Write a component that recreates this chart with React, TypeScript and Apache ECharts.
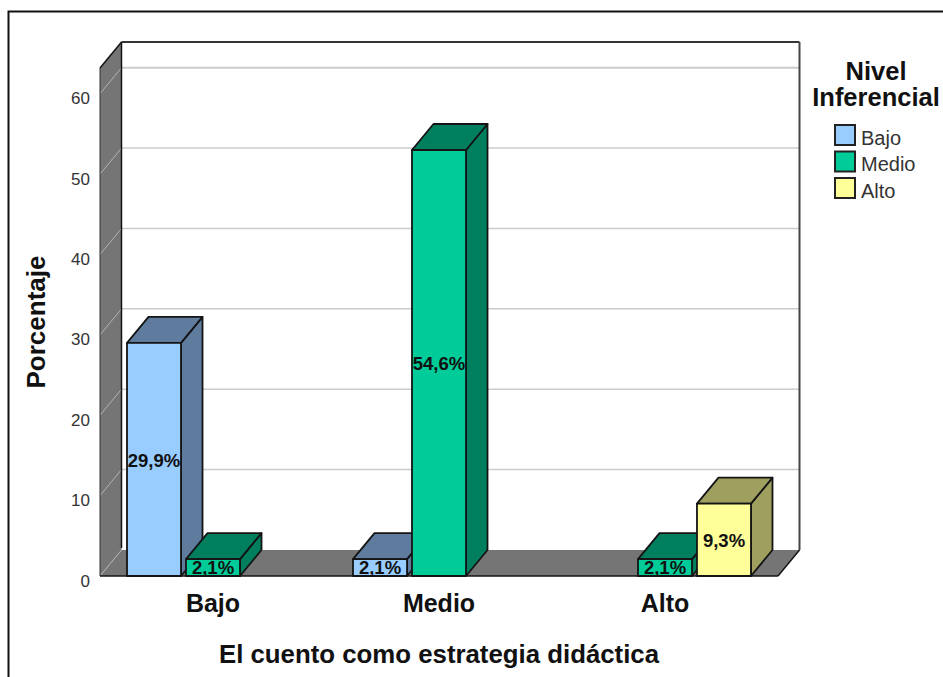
import React, { useEffect, useRef } from "react";
import * as echarts from "echarts";

const categories = ["Bajo", "Medio", "Alto"];
const tickValues = [0, 10, 20, 30, 40, 50, 60];
const seriesNames = ["Bajo", "Medio", "Alto"];
const bajoValues = [29.0, 2.1, null];
const medioValues = [2.1, 53.0, 2.1];
const altoValues = [null, null, 9.0];
const bajoLabels = ["29,9%", "2,1%", ""];
const medioLabels = ["2,1%", "54,6%", "2,1%"];
const altoLabels = ["", "", "9,3%"];
const frontColors = ["#99CCFF", "#00CC99", "#FFFF99"];
const sideColors = ["#5F7C9F", "#007F5F", "#9F9F5F"];

const DX = 21.5;
const DY = -26;
const WALL = "#757575";
const EDGE = "#141414";

function poly(points: number[][], fill: string, stroke: string | null, lineWidth = 1.8) {
  return {
    type: "polygon",
    shape: { points },
    style: { fill, stroke: stroke ?? "none", lineWidth, lineJoin: "round" },
  };
}
function seg(a: number[], b: number[], stroke: string, lineWidth: number) {
  return { type: "line", shape: { x1: a[0], y1: a[1], x2: b[0], y2: b[1] }, style: { stroke, lineWidth } };
}

function renderChrome(params: any, api: any) {
  const cs = params.coordSys;
  const L = cs.x, R = cs.x + cs.width, T = cs.y, B = cs.y + cs.height;
  const kids: any[] = [];
  kids.push(poly([[L + DX, T + DY], [R + DX, T + DY], [R + DX, B + DY], [L + DX, B + DY]], "#ffffff", null));
  kids.push(poly([[L, B], [L + DX, B + DY], [R + DX, B + DY], [R, B]], WALL, null));
  kids.push(poly([[L, B], [L, T], [L + DX, T + DY], [L + DX, B + DY]], WALL, null));
  tickValues.forEach((t, i) => {
    const y = api.coord([0, t])[1];
    kids.push(seg([L, y], [L + DX, y + DY], "#b4b4b4", 1));
    if (i > 0) kids.push(seg([L + DX, y + DY], [R + DX, y + DY], "#cccccc", i === tickValues.length - 1 ? 2 : 1.5));
  });
  kids.push(seg([L + DX, T + DY], [R + DX, T + DY], "#333333", 2));
  kids.push(seg([R + DX, T + DY], [R + DX, B + DY], "#444444", 2));
  kids.push(seg([L + DX, T + DY], [L + DX, B + DY - 2], EDGE, 1.5));
  kids.push(seg([L, T], [L + DX, T + DY], EDGE, 1.5));
  kids.push(seg([L, T], [L, B], "#333333", 1));
  kids.push(seg([L, B], [R, B], EDGE, 1.5));
  kids.push(seg([R, B], [R + DX, B + DY], EDGE, 1.5));
  return { type: "group", children: kids };
}

function barRenderer(index: number, labels: string[]) {
  return (_params: any, api: any) => {
    const cat = api.value(0);
    const val = api.value(1);
    const base = api.coord([cat, 0]);
    const top = api.coord([cat, val]);
    const band = api.size([1, 0])[0];
    const w = band * 0.239;
    const gap = band * 0.022;
    const x0 = base[0] + (index - 1) * (w + gap) - w / 2;
    const x1 = x0 + w;
    const yB = base[1];
    const yT = top[1];
    return {
      type: "group",
      children: [
        poly([[x1, yT], [x1 + DX, yT + DY], [x1 + DX, yB + DY], [x1, yB]], sideColors[index], EDGE),
        poly([[x0, yT], [x0 + DX, yT + DY], [x1 + DX, yT + DY], [x1, yT]], sideColors[index], EDGE),
        poly([[x0, yT], [x1, yT], [x1, yB], [x0, yB]], frontColors[index], EDGE),
        {
          type: "text",
          x: (x0 + x1) / 2,
          y: (yT + yB) / 2 + (yB - yT > 30 ? 1 : 0),
          style: {
            text: labels[cat],
            fill: "#111111",
            font: 'bold 18.5px "Liberation Sans"',
            align: "center",
            verticalAlign: "middle",
          },
        },
      ],
    };
  };
}

function toData(values: (number | null)[]) {
  return values.map((v, i) => (v === null ? null : [i, v])).filter(Boolean);
}

export default function App() {
  const ref = useRef<HTMLDivElement>(null);
  useEffect(() => {
    const chart = echarts.init(ref.current!, null, { renderer: "svg" });
    const valueSets = [bajoValues, medioValues, altoValues];
    const labelSets = [bajoLabels, medioLabels, altoLabels];
    chart.setOption({
      animation: false,
      backgroundColor: "#ffffff",
      textStyle: { fontFamily: "Liberation Sans" },
      grid: { left: 100, right: 165, top: 68, bottom: 101, containLabel: false },
      title: {
        text: "Nivel\nInferencial",
        left: 871,
        top: 53,
        textAlign: "center",
        textStyle: { fontFamily: "Liberation Sans", fontWeight: "bold", fontSize: 25.5, lineHeight: 26, color: "#111111" },
      },
      legend: {
        orient: "vertical",
        left: 834,
        top: 124,
        padding: 0,
        itemWidth: 20,
        itemHeight: 20,
        itemGap: 3,
        icon: "rect",
        data: seriesNames,
        selectedMode: false,
        formatter: "{a|{name}}",
        textStyle: {
          fontFamily: "Liberation Sans",
          rich: { a: { fontFamily: "Liberation Sans", fontSize: 20, color: "#333333", padding: [5, 0, 0, 1] } },
        },
      },
      xAxis: {
        type: "category",
        data: categories,
        axisLine: { show: false },
        axisTick: { show: false },
        axisLabel: { fontFamily: "Liberation Sans", fontWeight: "bold", fontSize: 25, color: "#111111", margin: 14 },
        name: "El cuento como estrategia didáctica",
        nameLocation: "middle",
        nameGap: 78,
        nameTextStyle: { fontFamily: "Liberation Sans", fontWeight: "bold", fontSize: 25.8, color: "#111111", verticalAlign: "middle" },
      },
      yAxis: {
        type: "value",
        min: 0,
        max: 63.2,
        interval: 10,
        axisLine: { show: false },
        axisTick: { show: false },
        splitLine: { show: false },
        axisLabel: {
          margin: 10,
          showMaxLabel: false,
          formatter: "{a|{value}}",
          rich: { a: { fontFamily: "Liberation Sans", fontSize: 17, color: "#333333", padding: [10, 0, 0, 0] } },
        },
        name: "Porcentaje",
        nameLocation: "middle",
        nameGap: 64,
        nameRotate: 90,
        nameTextStyle: { fontFamily: "Liberation Sans", fontWeight: "bold", fontSize: 26, color: "#111111", verticalAlign: "middle" },
      },
      series: [
        { type: "custom", name: "plano", data: [[0, 0]], clip: false, silent: true, z: 1, renderItem: renderChrome },
        ...seriesNames.map((name, i) => ({
          type: "custom",
          name,
          clip: false,
          z: 2,
          data: toData(valueSets[i]),
          itemStyle: { color: frontColors[i], borderColor: "#222222", borderWidth: 1.8 },
          renderItem: barRenderer(i, labelSets[i]),
        })),
      ],
      graphic: [
        {
          type: "polyline",
          z: 10,
          shape: { points: [[8.5, 677], [8.5, 11.5], [943, 11.5]] },
          style: { fill: "none", stroke: "#111111", lineWidth: 2 },
        },
      ],
    });
    return () => chart.dispose();
  }, []);
  return <div ref={ref} style={{ position: "fixed", left: 0, top: 0, width: 943, height: 677 }} />;
}
